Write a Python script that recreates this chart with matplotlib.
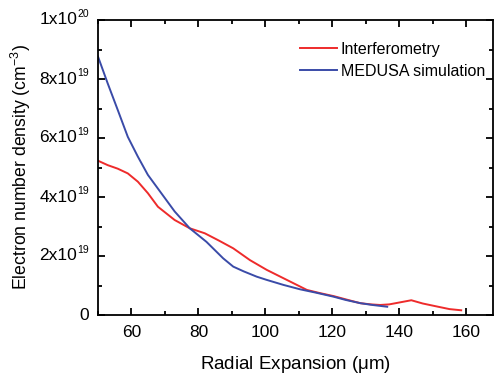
import numpy as np
import matplotlib
matplotlib.use('Agg')
import matplotlib.pyplot as plt
from matplotlib.ticker import MultipleLocator

plt.rcParams['font.family'] = ['Liberation Sans', 'DejaVu Sans']
plt.rcParams['mathtext.fontset'] = 'custom'
plt.rcParams['mathtext.rm'] = 'Liberation Sans'

# Interferometry (x in um, density in units of 1e18 cm^-3)
x_int = [50, 52.9, 55.9, 58.9, 61.9, 64.9, 67.9, 72.9, 77.4, 81.9, 86, 90.4,
         95.4, 100.4, 106.4, 112.4, 116, 120.4, 125, 128.4, 131.5, 134.3,
         137, 140.3, 143.6, 147, 151.6, 155, 158.5]
y_int = [52.3, 50.8, 49.6, 48.0, 45.2, 41.3, 36.7, 32.2, 29.4, 27.7, 25.3, 22.6,
         18.6, 15.3, 11.9, 8.5, 7.5, 6.4, 5.0, 4.0, 3.6, 3.4,
         3.6, 4.3, 5.0, 3.9, 2.8, 2.0, 1.6]

# MEDUSA simulation
x_sim = [50, 52.9, 55.9, 58.9, 61.9, 64.9, 68.9, 72.9, 77.4, 82.4, 87.4, 90.4,
         93.5, 97.4, 100.4, 105.4, 110.4, 115, 120.4, 124, 128.4, 132, 136.4]
y_sim = [87.6, 78.5, 69.5, 60.4, 53.7, 47.5, 41.3, 35.1, 29.4, 24.8, 19.2, 16.4,
         14.8, 13.0, 11.9, 10.2, 8.7, 7.6, 6.2, 5.1, 4.0, 3.4, 2.8]

yticks = [0, 20, 40, 60, 80, 100]
ybase = ['0', '2x10', '4x10', '6x10', '8x10', '1x10']
yexp = ['', '19', '19', '19', '19', '20']

fig = plt.figure(figsize=(4.94, 3.76), dpi=100)
ax = fig.add_axes([98/494, 61/376, 395/494, 295/376])

ax.plot(x_int, y_int, c='#ee2b2b', lw=1.4, label='Interferometry')
ax.plot(x_sim, y_sim, c='#3a4ba8', lw=1.4, label='MEDUSA simulation')

ax.set_xlim(50, 168)
ax.set_ylim(0, 100)
ax.set_xticks([60, 80, 100, 120, 140, 160])
ax.xaxis.set_minor_locator(MultipleLocator(10))
ax.set_yticks(yticks)
ax.set_yticklabels([])
ax.yaxis.set_minor_locator(MultipleLocator(10))

# y tick labels with small raised exponent
ytr = ax.get_yaxis_transform()
for yv, b, e in zip(yticks, ybase, yexp):
    if e:
        ax.text(-21/395, yv, b, transform=ytr, ha='right', va='center',
                fontsize=12.5, clip_on=False)
        ax.text(-21/395, yv + 0.3, e, transform=ytr, ha='left', va='bottom',
                fontsize=7.5, clip_on=False)
    else:
        ax.text(-9/395, yv, b, transform=ytr, ha='right', va='center',
                fontsize=12.5, clip_on=False)

for s in ax.spines.values():
    s.set_linewidth(1.3)
ax.tick_params(which='both', direction='in', top=True, right=True,
               labelsize=12.5, width=1.3)
ax.tick_params(which='major', length=5, pad=7)
ax.tick_params(which='minor', length=3)

ax.set_xlabel(r'Radial Expansion ($\mathregular{\mu}$m)', fontsize=13.5, labelpad=10)
ax.set_ylabel(r'Electron number density (cm$\mathregular{^{-3}}$)', fontsize=12.7)
ax.yaxis.set_label_coords(-65/395, 0.5)

ax.legend(loc='upper left', frameon=False, fontsize=11.5, handlelength=2.3,
          handletextpad=0.25, labelspacing=0.45, borderpad=0, borderaxespad=0,
          bbox_to_anchor=(202/395, 0.926))

fig.savefig('out.png', dpi=100)
